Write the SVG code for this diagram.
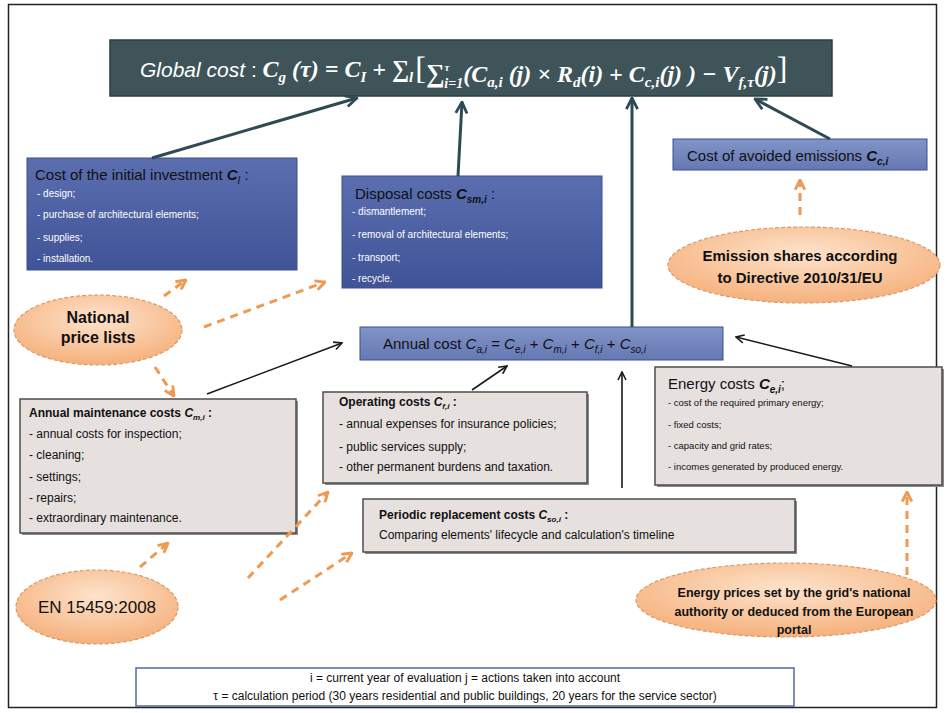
<svg xmlns="http://www.w3.org/2000/svg" width="948" height="713" viewBox="0 0 948 713">
<style>
.sans{font-family:"Liberation Sans",Arial,sans-serif}
.blue{stroke:#3c4f8c;stroke-width:1}
.gray{fill:#e6e0de;stroke:#4d4d4d;stroke-width:1.5}
.shadow{fill:#8a8a8a}
.ell{fill:url(#gOr);stroke:#d99a6a;stroke-width:1.2;stroke-dasharray:4 2}
.t-dark{fill:#111}
.t-white{fill:#fff}
.slate{stroke:#2f4a55;stroke-width:3;fill:none;marker-end:url(#aS)}
.blk{stroke:#1a1a1a;stroke-width:1.6;fill:none;marker-end:url(#aB)}
.org{stroke:#ef9a52;stroke-width:3;fill:none;stroke-dasharray:8 6;marker-end:url(#aO)}
.m{font-family:"Liberation Serif","Times New Roman",serif;font-style:italic;font-weight:bold}
.br{font-family:"Liberation Serif","Times New Roman",serif;font-style:normal;font-weight:normal}
</style>
<defs>
<linearGradient id="gBlue" x1="0" y1="0" x2="0" y2="1"><stop offset="0" stop-color="#5a6eb0"/><stop offset="1" stop-color="#3f5396"/></linearGradient>
<linearGradient id="gBlue2" x1="0" y1="0" x2="0" y2="1"><stop offset="0" stop-color="#8194c8"/><stop offset="1" stop-color="#6678b3"/></linearGradient>
<radialGradient id="gOr" cx="0.5" cy="0.35" r="0.7"><stop offset="0" stop-color="#fde3cc"/><stop offset="1" stop-color="#f5ad76"/></radialGradient>
<marker id="aS" viewBox="0 0 10 10" refX="9" refY="5" markerWidth="14" markerHeight="14" markerUnits="userSpaceOnUse" orient="auto"><path d="M1,1 L9,5 L1,9" fill="none" stroke="#2f4a55" stroke-width="2"/></marker>
<marker id="aB" viewBox="0 0 10 10" refX="9" refY="5" markerWidth="10" markerHeight="10" markerUnits="userSpaceOnUse" orient="auto"><path d="M1,1 L9,5 L1,9" fill="none" stroke="#1a1a1a" stroke-width="1.6"/></marker>
<marker id="aO" viewBox="0 0 10 10" refX="9" refY="5" markerWidth="12" markerHeight="12" markerUnits="userSpaceOnUse" orient="auto"><path d="M1,1 L9,5 L1,9" fill="none" stroke="#ef9a52" stroke-width="2.4"/></marker>
</defs>
<rect x="0" y="0" width="948" height="713" fill="#fff"/>
<rect x="8.5" y="4.5" width="928" height="703" fill="none" stroke="#222" stroke-width="1.5"/>

<g id="formula">
<rect x="110" y="40" width="722" height="56" fill="#3e5459" stroke="#2a3b40" stroke-width="1.5"/>
<text x="140" y="77" fill="#fff" font-size="24"><tspan class="sans" font-style="italic" font-size="21">Global cost</tspan><tspan class="sans" font-size="21"> : </tspan><tspan class="m">C</tspan><tspan class="m" font-size="15" dy="5">g</tspan><tspan class="m" dy="-5"> (τ) = C</tspan><tspan class="m" font-size="15" dy="5">I</tspan><tspan class="m" dy="-5"> + ∑</tspan><tspan class="m" font-size="15" dy="5">l</tspan><tspan class="br" font-size="32" dy="-3" dx="2">[</tspan><tspan class="m" font-size="26" dy="3">∑</tspan><tspan class="m" font-size="11" dy="-11">τ</tspan><tspan class="m" font-size="14" dx="-5" dy="17">i=1</tspan><tspan class="m" dy="-6">(C</tspan><tspan class="m" font-size="15" dy="5">a,i</tspan><tspan class="m" dy="-5"> (j) × R</tspan><tspan class="m" font-size="15" dy="5">d</tspan><tspan class="m" dy="-5">(i) + C</tspan><tspan class="m" font-size="15" dy="5">c,i</tspan><tspan class="m" dy="-5">(j) ) − V</tspan><tspan class="m" font-size="15" dy="5">f,τ</tspan><tspan class="m" dy="-5">(j)</tspan><tspan class="br" font-size="32" dy="-3">]</tspan></text>
</g>

<g id="initial-investment">
<rect x="27" y="158" width="270" height="112" fill="url(#gBlue)" class="blue"/>
<text x="35" y="180" class="sans t-dark" font-size="15">Cost of the initial investment <tspan font-style="italic" font-weight="bold">C</tspan><tspan font-style="italic" font-size="10" dy="4">I</tspan><tspan dy="-4"> :</tspan></text>
<g class="sans t-white" font-size="10">
<text x="37" y="197">- design;</text>
<text x="37" y="218">- purchase of architectural elements;</text>
<text x="37" y="241">- supplies;</text>
<text x="37" y="262">- installation.</text>
</g>
</g>

<g id="disposal">
<rect x="342" y="176" width="260" height="112" fill="url(#gBlue)" class="blue"/>
<text x="355" y="199" class="sans t-dark" font-size="15">Disposal costs <tspan font-style="italic" font-weight="bold">C</tspan><tspan font-style="italic" font-weight="bold" font-size="10" dy="4">sm,i</tspan><tspan dy="-4"> :</tspan></text>
<g class="sans t-white" font-size="10">
<text x="352" y="215">- dismantlement;</text>
<text x="352" y="238">- removal of architectural elements;</text>
<text x="352" y="261">- transport;</text>
<text x="352" y="282">- recycle.</text>
</g>
</g>

<g id="avoided-emissions">
<rect x="673" y="139" width="254" height="31" fill="url(#gBlue2)" class="blue"/>
<text x="687" y="161" class="sans t-dark" font-size="15">Cost of avoided emissions <tspan font-style="italic" font-weight="bold">C</tspan><tspan font-style="italic" font-weight="bold" font-size="10" dy="4">c,i</tspan></text>
</g>

<g id="emission-shares">
<ellipse cx="804" cy="265" rx="136" ry="38" class="ell"/>
<text x="800" y="261" text-anchor="middle" class="sans t-dark" font-size="15" font-weight="bold">Emission shares according</text>
<text x="800" y="283" text-anchor="middle" class="sans t-dark" font-size="15" font-weight="bold">to Directive 2010/31/EU</text>
</g>

<g id="national-price-lists">
<ellipse cx="98" cy="330" rx="84" ry="35" class="ell"/>
<text x="98" y="323" text-anchor="middle" class="sans t-dark" font-size="16" font-weight="bold">National</text>
<text x="98" y="343" text-anchor="middle" class="sans t-dark" font-size="16" font-weight="bold">price lists</text>
</g>

<g id="annual-cost">
<rect x="360" y="327" width="363" height="33" fill="url(#gBlue2)" class="blue"/>
<text x="383" y="349" class="sans t-dark" font-size="15">Annual cost <tspan font-style="italic">C</tspan><tspan font-style="italic" font-size="10" dy="4">a,i</tspan><tspan dy="-4"> = </tspan><tspan font-style="italic">C</tspan><tspan font-style="italic" font-size="10" dy="4">e,i</tspan><tspan dy="-4"> + </tspan><tspan font-style="italic">C</tspan><tspan font-style="italic" font-size="10" dy="4">m,i</tspan><tspan dy="-4"> + </tspan><tspan font-style="italic">C</tspan><tspan font-style="italic" font-size="10" dy="4">f,i</tspan><tspan dy="-4"> + </tspan><tspan font-style="italic">C</tspan><tspan font-style="italic" font-size="10" dy="4">so,i</tspan></text>
</g>

<g id="maintenance">
<rect x="22" y="401" width="276" height="134" class="shadow"/>
<rect x="20" y="399" width="276" height="134" class="gray"/>
<text x="29" y="417" class="sans t-dark" font-size="12" font-weight="bold">Annual maintenance costs <tspan font-style="italic">C</tspan><tspan font-style="italic" font-size="8" dy="3">m,i</tspan><tspan dy="-3"> :</tspan></text>
<g class="sans t-dark" font-size="12">
<text x="29" y="438">- annual costs for inspection;</text>
<text x="29" y="459">- cleaning;</text>
<text x="29" y="481">- settings;</text>
<text x="29" y="502">- repairs;</text>
<text x="29" y="522">- extraordinary maintenance.</text>
</g>
</g>

<g id="operating">
<rect x="325" y="394" width="264" height="91" class="shadow"/>
<rect x="323" y="392" width="264" height="91" class="gray"/>
<text x="339" y="406" class="sans t-dark" font-size="12" font-weight="bold">Operating costs <tspan font-style="italic">C</tspan><tspan font-style="italic" font-size="8" dy="3">f,i</tspan><tspan dy="-3"> :</tspan></text>
<g class="sans t-dark" font-size="12">
<text x="339" y="428">- annual expenses for insurance policies;</text>
<text x="339" y="451">- public services supply;</text>
<text x="339" y="471">- other permanent burdens and taxation.</text>
</g>
</g>

<g id="energy-costs">
<rect x="657" y="369" width="287" height="118" class="shadow"/>
<rect x="655" y="367" width="287" height="118" class="gray"/>
<text x="668" y="389" class="sans t-dark" font-size="15">Energy costs <tspan font-style="italic" font-weight="bold">C</tspan><tspan font-style="italic" font-weight="bold" font-size="10" dy="4">e,i</tspan><tspan dy="-4">;</tspan></text>
<g class="sans t-dark" font-size="9.5">
<text x="668" y="406">- cost of the required primary energy;</text>
<text x="668" y="428">- fixed costs;</text>
<text x="668" y="449">- capacity and grid rates;</text>
<text x="668" y="470">- incomes generated by produced energy.</text>
</g>
</g>

<g id="periodic">
<rect x="365" y="501" width="432" height="53" class="shadow"/>
<rect x="363" y="499" width="432" height="53" class="gray"/>
<text x="379" y="519" class="sans t-dark" font-size="12" font-weight="bold">Periodic replacement costs <tspan font-style="italic">C</tspan><tspan font-style="italic" font-size="8" dy="3">so,i</tspan><tspan dy="-3"> :</tspan></text>
<text x="379" y="539" class="sans t-dark" font-size="12">Comparing elements' lifecycle and calculation's timeline</text>
</g>

<g id="en15459">
<ellipse cx="97" cy="607" rx="81" ry="37" class="ell"/>
<text x="97" y="613" text-anchor="middle" class="sans t-dark" font-size="17">EN 15459:2008</text>
</g>

<g id="energy-prices">
<ellipse cx="786" cy="600" rx="150" ry="37" class="ell"/>
<text x="794" y="597" text-anchor="middle" class="sans t-dark" font-size="12.5" font-weight="bold">Energy prices set by the grid's national</text>
<text x="794" y="616" text-anchor="middle" class="sans t-dark" font-size="12.5" font-weight="bold">authority or deduced from the European</text>
<text x="794" y="634" text-anchor="middle" class="sans t-dark" font-size="12.5" font-weight="bold">portal</text>
</g>

<g id="legend">
<rect x="136" y="668" width="658" height="38" fill="#fff" stroke="#5565aa" stroke-width="1.5"/>
<text x="465" y="682" text-anchor="middle" class="sans t-dark" font-size="12">i = current year of evaluation  j = actions taken into account</text>
<text x="465" y="700" text-anchor="middle" class="sans t-dark" font-size="12">τ = calculation period (30 years residential and public buildings, 20 years for the service sector)</text>
</g>

<g id="connectors">
<path class="slate" d="M152,158 L357,98"/>
<path class="slate" d="M458,176 L462,102"/>
<path class="slate" d="M632,327 L632,98"/>
<path class="slate" d="M830,139 L755,99"/>
<path class="org" d="M800,215 L800,180"/>
<path class="org" d="M164,296 L186,280"/>
<path class="org" d="M204,327 L325,282"/>
<path class="org" d="M155,367 L174,396"/>
<path class="blk" d="M207,394 L342,343"/>
<path class="blk" d="M472,390 L507,366"/>
<path class="blk" d="M622,488 L622,372"/>
<path class="blk" d="M852,366 L736,337"/>
<path class="org" d="M140,567 L168,543"/>
<path class="org" d="M248,578 L328,492"/>
<path class="org" d="M280,600 L352,553"/>
<path class="org" d="M907,575 L907,492"/>
</g>
</svg>
